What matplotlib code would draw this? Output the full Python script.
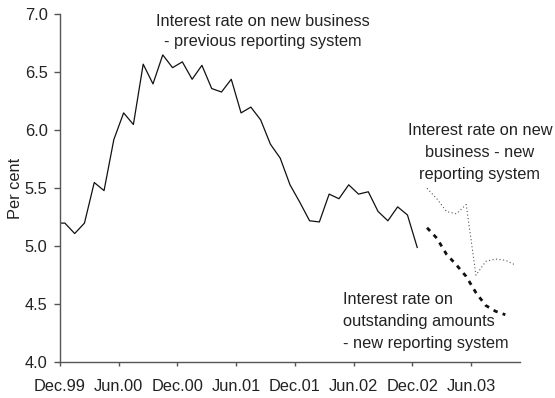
import numpy as np
import matplotlib
matplotlib.use("Agg")
import matplotlib.pyplot as plt

# =============================================================================
# DATA (monthly, x = months after Dec.99)
# =============================================================================

tick_labels = ["Dec.99", "Jun.00", "Dec.00", "Jun.01", "Dec.01", "Jun.02", "Dec.02", "Jun.03"]

# new business rates - previous reporting system
old_system = [5.20, 5.20, 5.11, 5.20, 5.55, 5.48, 5.92, 6.15, 6.05, 6.57,
              6.40, 6.65, 6.54, 6.59, 6.44, 6.56, 6.36, 6.33, 6.44, 6.15,
              6.20, 6.09, 5.88, 5.76, 5.53, 5.38, 5.22, 5.21, 5.45, 5.41,
              5.53, 5.45, 5.47, 5.30, 5.22, 5.34, 5.27, 4.99]

# outstanding amounts - new reporting system
outstanding_new = [5.16, 5.07, 4.93, 4.84, 4.74, 4.60, 4.49, 4.44, 4.41]

# new business - new reporting system
new_business_new = [5.50, 5.41, 5.30, 5.28, 5.36, 4.75, 4.87, 4.89, 4.88, 4.84]

x_old = np.arange(len(old_system)) - 0.5
x_out = x_old[-1] + 1 + np.arange(len(outstanding_new))
x_new = x_old[-1] + 1 + np.arange(len(new_business_new))

# =============================================================================
# PLOT
# =============================================================================

plt.rcParams['font.family'] = ['Liberation Sans', 'DejaVu Sans']
fs = 11.8
txt_color = '#222222'
axis_color = '#555555'

fig = plt.figure(figsize=(5.55, 3.98), dpi=100)
ax = fig.add_axes([60 / 555, 1 - 362.3 / 398, 460 / 555, 348 / 398])

ax.plot(x_old, old_system, color='#111111', linewidth=0.9)
ax.plot(x_out, outstanding_new, color='#111111', linewidth=2.0,
        linestyle=(0, (1.6, 1.9)))
ax.plot(x_new, new_business_new, color='#555555', linewidth=0.8,
        linestyle=(0, (1, 2.2)))

ax.set_xlim(0, 47)
ax.set_ylim(4.0, 7.0)
ax.set_xticks(np.arange(0, 6 * len(tick_labels), 6))
ax.set_xticklabels(tick_labels)
ax.set_yticks(np.arange(4.0, 7.01, 0.5))
ax.set_yticklabels([f"{v:.1f}" for v in np.arange(4.0, 7.01, 0.5)])

for side in ['top', 'right']:
    ax.spines[side].set_visible(False)
for side in ['left', 'bottom']:
    ax.spines[side].set_color(axis_color)
    ax.spines[side].set_linewidth(1.0)

ax.tick_params(axis='x', direction='out', length=3, width=1, color=axis_color,
               pad=9, labelsize=fs, labelcolor=txt_color)
ax.tick_params(axis='y', direction='out', length=4, width=1, color=axis_color,
               pad=5, labelsize=fs, labelcolor=txt_color)

ax.set_ylabel('Per cent', fontsize=fs, color=txt_color, labelpad=1)

ax.text(20.7, 7.005, "Interest rate on new business\n- previous reporting system",
        ha='center', va='top', fontsize=fs, color=txt_color,
        linespacing=1.4, clip_on=False)
ax.text(42.9, 6.066, "Interest rate on new\nbusiness - new\nreporting system",
        ha='center', va='top', fontsize=fs, color=txt_color,
        linespacing=1.58, clip_on=False)
ax.text(28.9, 4.609, "Interest rate on\noutstanding amounts\n- new reporting system",
        ha='left', va='top', fontsize=fs, color=txt_color,
        linespacing=1.58)

fig.savefig('out.png', dpi=100)
